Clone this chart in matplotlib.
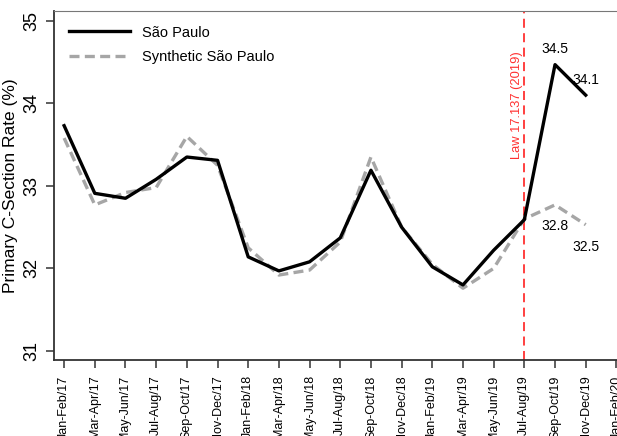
import matplotlib
matplotlib.use("Agg")
import matplotlib.pyplot as plt

plt.rcParams["font.family"] = ["Liberation Sans", "DejaVu Sans"]

# Bimestres
periods = ["Jan-Feb/17", "Mar-Apr/17", "May-Jun/17", "Jul-Aug/17", "Sep-Oct/17",
           "Nov-Dec/17", "Jan-Feb/18", "Mar-Apr/18", "May-Jun/18", "Jul-Aug/18",
           "Sep-Oct/18", "Nov-Dec/18", "Jan-Feb/19", "Mar-Apr/19", "May-Jun/19",
           "Jul-Aug/19", "Sep-Oct/19", "Nov-Dec/19", "Jan-Feb/20"]

sao_paulo = [33.73, 32.91, 32.85, 33.08, 33.35, 33.31, 32.14, 31.97, 32.08,
             32.37, 33.19, 32.50, 32.02, 31.80, 32.22, 32.59, 34.47, 34.10]
synthetic = [33.58, 32.77, 32.92, 32.98, 33.60, 33.25, 32.25, 31.92, 31.98,
             32.32, 33.35, 32.50, 32.05, 31.76, 32.00, 32.60, 32.77, 32.53]

law_index = 15
law_label = "Law 17.137 (2019)"

fig = plt.figure(figsize=(6.17, 4.36), dpi=100)
ax = fig.add_axes([54 / 617, 1 - 360 / 436, 1 - 54 / 617, 349 / 436])

x = list(range(len(sao_paulo)))
ax.plot(x, sao_paulo, color="black", lw=2.4, label="São Paulo", zorder=3)
ax.plot(x, synthetic, color="#a6a6a6", lw=2.4, ls=(0, (3, 1.6)),
        label="Synthetic São Paulo", zorder=2)

# linha da lei
ax.axvline(law_index, color="#ff3030", lw=1.3, ls=(0, (5, 3)), zorder=1)
ax.text(law_index - 0.05, 33.98, law_label, rotation=90, color="#ff3030",
        fontsize=9.3, ha="right", va="center")

# rótulos dos últimos valores
ax.text(16, sao_paulo[16] + 0.1, f"{sao_paulo[16]:.1f}", ha="center", va="bottom", fontsize=10)
ax.text(17, sao_paulo[17] + 0.1, f"{sao_paulo[17]:.1f}", ha="center", va="bottom", fontsize=10)
ax.text(16, synthetic[16] - 0.17, f"{synthetic[16]:.1f}", ha="center", va="top", fontsize=10)
ax.text(17, synthetic[17] - 0.18, f"{synthetic[17]:.1f}", ha="center", va="top", fontsize=10)

ax.set_xlim(-0.33, 18.02)
ax.set_ylim(30.89, 35.12)
ax.set_xticks(range(len(periods)))
ax.set_xticklabels(periods, rotation=90, fontsize=9)
ax.set_yticks([31, 32, 33, 34, 35])
ax.set_yticklabels(["31", "32", "33", "34", "35"], rotation=90, va="center", fontsize=13)
ax.set_ylabel("Primary C-Section Rate (%)", fontsize=12.5, labelpad=4)

for side in ["left", "bottom"]:
    ax.spines[side].set_linewidth(1.3)
    ax.spines[side].set_color("#333333")
ax.spines["top"].set_color("#777777")
ax.spines["right"].set_visible(False)
ax.tick_params(direction="out", length=6, width=1.1, color="#333333", pad=4)
ax.tick_params(axis="x", pad=5)

ax.legend(loc="upper left", frameon=False, fontsize=10.5, handlelength=4.2,
          bbox_to_anchor=(0.0, 1.0), borderaxespad=0.6, labelspacing=0.7)

fig.savefig("out.png", dpi=100)
